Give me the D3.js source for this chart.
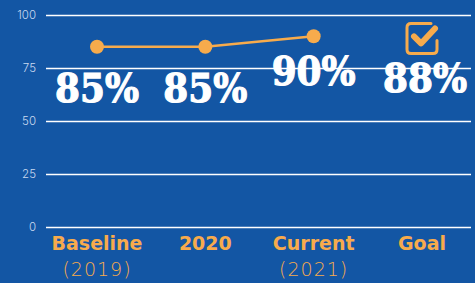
<!DOCTYPE html>
<html>
<head>
<meta charset="utf-8">
<script src="https://cdn.jsdelivr.net/npm/d3@7"></script>
<style>
  html, body { margin: 0; padding: 0; background: #1356a4; }
  svg { display: block; }
</style>
</head>
<body>
<svg id="chart"></svg>
<script>
const categories = ['Baseline', '2020', 'Current', 'Goal'];
const subLabels = ['(2019)', '', '(2021)', ''];
const values = [85, 85, 90, 88];
const lineCount = 3; // first three are the trend line, the last one is the goal
const yTicks = [0, 25, 50, 75, 100];

const width = 475;
const height = 283;
const orange = '#f7ab4c';

const svg = d3.select('#chart')
    .attr('width', width)
    .attr('height', height);

svg.append('rect')
    .attr('width', width)
    .attr('height', height)
    .attr('fill', '#1356a4');

const x = d3.scalePoint()
    .domain(categories)
    .range([97, 422]);

const y = d3.scaleLinear()
    .domain([0, 100])
    .range([227, 15]);

// the big labels sit below the dots, a bit more spread than the dots themselves
const labelY = d3.scaleLinear()
    .domain([85, 90])
    .range([102, 85]);

// grid + tick labels
const yAxis = svg.append('g')
    .attr('transform', 'translate(46,0)')
    .call(d3.axisLeft(y).tickValues(yTicks).tickSize(-425).tickPadding(10));
yAxis.select('.domain').remove();
yAxis.selectAll('.tick line')
    .attr('stroke', '#ffffff')
    .attr('stroke-width', 1.4);
yAxis.selectAll('.tick text')
    .attr('fill', '#c9daf0')
    .style('font-family', 'Inter, sans-serif')
    .style('font-size', '11.5px')
    .style('font-weight', 300);

// trend line
const lineData = categories.slice(0, lineCount).map((c, i) => ({ c, v: values[i] }));
svg.append('path')
    .datum(lineData)
    .attr('fill', 'none')
    .attr('stroke', orange)
    .attr('stroke-width', 2.5)
    .attr('d', d3.line().x(d => x(d.c)).y(d => y(d.v)));

svg.append('g')
    .selectAll('circle')
    .data(lineData)
    .enter()
    .append('circle')
        .attr('cx', d => x(d.c))
        .attr('cy', d => y(d.v))
        .attr('r', 7)
        .attr('fill', orange);

// goal check-box icon
const goal = svg.append('g')
    .attr('transform', `translate(${x('Goal')},${y(values[3]) - 2})`);
goal.append('path')
    .attr('d', 'M 9 -15 L -11 -15 Q -15 -15 -15 -11 L -15 11 Q -15 15 -11 15 L 11 15 Q 15 15 15 11 L 15 2')
    .attr('fill', 'none')
    .attr('stroke', orange)
    .attr('stroke-width', 3)
    .attr('stroke-linecap', 'round');
goal.append('path')
    .attr('d', 'M -8 -2 L -1 5 L 13 -10')
    .attr('fill', 'none')
    .attr('stroke', orange)
    .attr('stroke-width', 6)
    .attr('stroke-linecap', 'round')
    .attr('stroke-linejoin', 'round');

// big percentage labels
svg.append('g')
    .selectAll('text')
    .data(values)
    .enter()
    .append('text')
        .attr('x', (d, i) => x(categories[i]) + (i === 3 ? 3 : 0))
        .attr('y', d => labelY(d))
        .attr('text-anchor', 'middle')
        .attr('fill', '#ffffff')
        .attr('stroke', '#ffffff')
        .attr('stroke-width', 1.2)
        .attr('textLength', 84)
        .attr('lengthAdjust', 'spacingAndGlyphs')
        .style('font-family', '"DejaVu Serif", serif')
        .style('font-weight', 'bold')
        .style('font-size', '40px')
        .text(d => `${d}%`);

// category labels
svg.append('g')
    .selectAll('text')
    .data(categories)
    .enter()
    .append('text')
        .attr('x', d => x(d))
        .attr('y', 250)
        .attr('text-anchor', 'middle')
        .attr('fill', orange)
        .style('font-family', '"DejaVu Sans", sans-serif')
        .style('font-weight', 'bold')
        .style('font-size', '19px')
        .text(d => d);

svg.append('g')
    .selectAll('text')
    .data(subLabels)
    .enter()
    .append('text')
        .attr('x', (d, i) => x(categories[i]))
        .attr('y', 276)
        .attr('text-anchor', 'middle')
        .attr('fill', orange)
        .style('font-family', '"DejaVu Sans", sans-serif')
        .style('font-weight', 300)
        .style('font-size', '19px')
        .style('letter-spacing', '1px')
        .text(d => d);
</script>
</body>
</html>
